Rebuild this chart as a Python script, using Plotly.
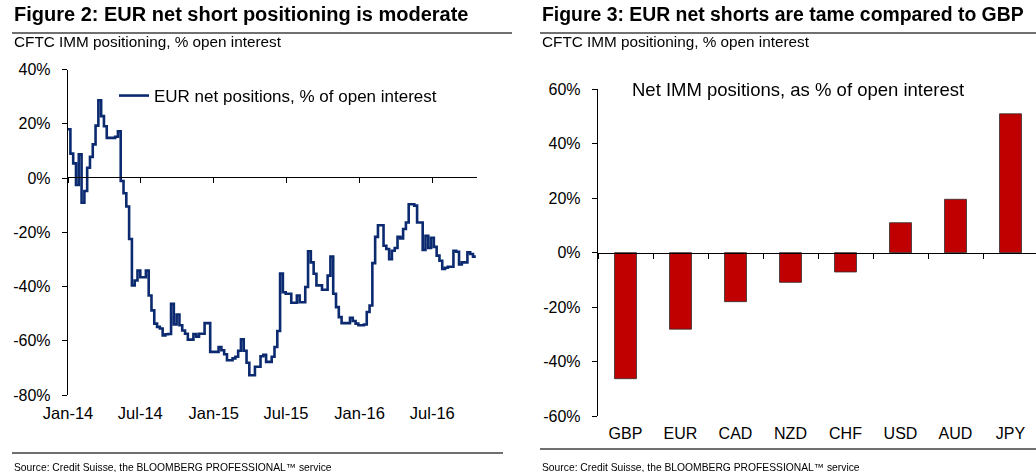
import pandas as pd
import plotly.graph_objects as go

# ---------------- data ----------------
eur_start = "2013-12-31"
eur_values = [
    18, 9, 5.4, -2.6, 8.7, -9.1, -4.8, 3.8, 7.8, 12.4,
    19.3, 28.6, 22.8, 19.1, 14.8, 14.8, 14.8, 15.2, 17.2, -1.1,
    -5.6, -10.5, -22.5, -39.6, -37.8, -34.1, -36.6, -36.6, -34.1, -43.3,
    -48.8, -53.7, -54.9, -55.5, -58, -57.6, -57.5, -46.4, -54, -50.3,
    -54.3, -56.2, -57.4, -59.6, -59.6, -57.5, -58.5, -57.4, -57.4, -53.5,
    -53.5, -64.1, -64.1, -64.1, -62.3, -63.5, -65, -67.2, -67.2, -66.5,
    -65.9, -63.7, -59.5, -63.7, -68.1, -72.7, -72.7, -69.6, -69.6, -65.7,
    -65.2, -67.8, -67.8, -65.9, -62.3, -56.4, -35.2, -42.1, -42.7, -42.7,
    -46, -46, -43.3, -45.8, -45.8, -40.2, -27, -31.1, -35.3, -39.6,
    -39.6, -41.2, -41.2, -36, -29, -42.7, -47.6, -51.3, -53.5, -53.5,
    -53.5, -51.5, -52.7, -53.7, -54.3, -54.3, -54, -49.4, -47, -31.4,
    -21.7, -17.4, -17.4, -25, -26.2, -29.9, -26.8, -25.8, -21.7, -22.3,
    -18.8, -16.4, -9.7, -9.7, -10.2, -16.4, -16.4, -26.5, -21.3, -25.8,
    -22, -25.4, -28.6, -30.5, -33.5, -33.1, -32.7, -32.7, -26.8, -27.2,
    -31.9, -31.1, -31.1, -27.4, -28, -29, -29,
]
eur_dates = pd.date_range(eur_start, periods=len(eur_values), freq="7D")

currencies = ["GBP", "EUR", "CAD", "NZD", "CHF", "USD", "AUD", "JPY"]
net_imm = [-46.3, -28.1, -18.0, -10.9, -7.1, 11.0, 19.6, 51.0]

left_yticks = [-80, -60, -40, -20, 0, 20, 40]
right_yticks = [-60, -40, -20, 0, 20, 40, 60]

W, H = 1036, 472
FONT = "Liberation Sans, Arial, sans-serif"


def px(xp):
    return xp / W


def py(yp):
    return 1 - yp / H


def pct(v):
    return [f"{t}%" for t in v]


fig = go.Figure()

fig.add_trace(go.Scatter(
    x=eur_dates, y=eur_values, mode="lines", line_shape="hv",
    line=dict(color="#0B2A6F", width=2.6),
    name="EUR net positions, % of open interest",
    xaxis="x", yaxis="y", showlegend=True, cliponaxis=True,
))
# invisible helper so the zero-crossing axis is drawn
fig.add_trace(go.Scatter(
    x=eur_dates, y=eur_values, mode="lines", opacity=0,
    line=dict(width=0), hoverinfo="skip", showlegend=False,
    xaxis="x2", yaxis="y",
))

fig.add_trace(go.Bar(
    x=currencies, y=net_imm, xaxis="x3", yaxis="y2",
    marker=dict(color="#C00000", line=dict(color="#303030", width=0.8)),
    width=0.4, showlegend=False,
))
fig.add_trace(go.Scatter(
    x=currencies, y=net_imm, mode="markers", opacity=0,
    hoverinfo="skip", showlegend=False, xaxis="x4", yaxis="y2",
))

left_xrange = ["2014-01-01", "2016-10-21"]
left_dom_x = [px(68), px(477)]
right_dom_x = [px(598), 1.0]
right_xrange = [-0.5, -0.5 + 8 * (438 / 440)]

tickfont = dict(family=FONT, size=16, color="#000000")

fig.update_layout(
    width=W, height=H,
    margin=dict(l=0, r=0, t=0, b=0, autoexpand=False),
    paper_bgcolor="white", plot_bgcolor="white",
    font=dict(family=FONT, color="#000000"),
    xaxis=dict(domain=left_dom_x, range=left_xrange, type="date",
               tick0="2014-01-01", dtick="M6", tickformat="%b-%y",
               showline=False, showgrid=False, zeroline=False,
               ticks="", ticklabelstandoff=6,
               tickfont=dict(family=FONT, size=16.5, color="#000000"),
               anchor="y"),
    xaxis2=dict(overlaying="x", anchor="free", position=py(177),
                range=left_xrange, type="date", domain=left_dom_x,
                tick0="2014-01-01", dtick="M6",
                showticklabels=False, showline=True, linecolor="#000000",
                linewidth=1.4, ticks="outside", ticklen=5,
                tickcolor="#000000", tickwidth=1.4, showgrid=False,
                zeroline=False),
    yaxis=dict(domain=[py(395), py(69.5)], range=[-80, 40],
               tickvals=left_yticks, ticktext=pct(left_yticks),
               showline=True, linecolor="#000000", linewidth=1.4,
               ticks="outside", ticklen=5, tickcolor="#000000",
               tickwidth=1.4, showgrid=False, zeroline=False,
               tickfont=tickfont, ticklabelstandoff=8, anchor="x"),
    xaxis3=dict(domain=right_dom_x, range=right_xrange, type="category",
                categoryarray=currencies,
                showline=False, showgrid=False, zeroline=False, ticks="",
                tickfont=dict(family=FONT, size=16, color="#000000"),
                ticklabelstandoff=6, anchor="y2"),
    xaxis4=dict(overlaying="x3", anchor="free", position=py(252.7),
                domain=right_dom_x, range=right_xrange, type="category",
                categoryarray=currencies, tickson="boundaries",
                showticklabels=False, showline=True, linecolor="#000000",
                linewidth=1.4, ticks="outside", ticklen=5,
                tickcolor="#000000", tickwidth=1.4, showgrid=False,
                zeroline=False),
    yaxis2=dict(domain=[py(416), py(89.3)], range=[-60, 60],
                tickvals=right_yticks, ticktext=pct(right_yticks),
                showline=True, linecolor="#000000", linewidth=1.4,
                ticks="outside", ticklen=5, tickcolor="#000000",
                tickwidth=1.4, showgrid=False, zeroline=False,
                tickfont=tickfont, ticklabelstandoff=8, anchor="x3"),
    legend=dict(x=px(114), y=py(96), xanchor="left", yanchor="middle",
                bgcolor="rgba(0,0,0,0)", borderwidth=0,
                font=dict(family=FONT, size=17, color="#000000"),
                itemwidth=30),
)

annots = [
    dict(x=px(12), y=py(14), text="<b>Figure 2: EUR net short positioning is moderate</b>",
         size=20),
    dict(x=px(540), y=py(14), text="<b>Figure 3: EUR net shorts are tame compared to GBP</b>",
         size=19.4),
    dict(x=px(12), y=py(42), text="CFTC IMM positioning, % open interest", size=15.3),
    dict(x=px(540), y=py(42), text="CFTC IMM positioning, % open interest", size=15.3),
    dict(x=px(12), y=py(467), text="Source: Credit Suisse, the BLOOMBERG PROFESSIONAL\u2122 service",
         size=10.3),
    dict(x=px(540), y=py(467), text="Source: Credit Suisse, the BLOOMBERG PROFESSIONAL\u2122 service",
         size=10.3),
]
for a in annots:
    fig.add_annotation(x=a["x"], y=a["y"], xref="paper", yref="paper",
                       text=a["text"], showarrow=False, xanchor="left",
                       yanchor="middle",
                       font=dict(family=FONT, size=a["size"], color="#000000"))

fig.add_annotation(x=px(798), y=py(89), xref="paper", yref="paper",
                   text="Net IMM positions, as % of open interest",
                   showarrow=False, xanchor="center", yanchor="middle",
                   font=dict(family=FONT, size=18.5, color="#000000"))

for x0, x1, yy in [(12, 512, 33), (540, 1036, 33), (12, 503, 453), (540, 1036, 449)]:
    fig.add_shape(type="line", xref="paper", yref="paper",
                  x0=px(x0), x1=px(x1), y0=py(yy), y1=py(yy),
                  line=dict(color="#404040", width=1.5))

fig.write_html("out.html")
